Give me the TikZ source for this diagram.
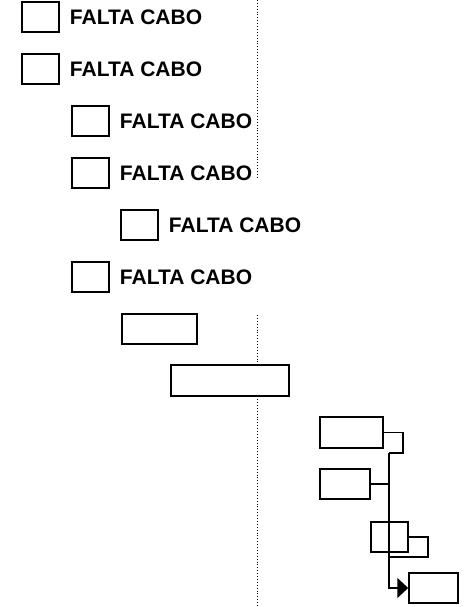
\documentclass[tikz,border=0pt]{standalone}
\usepackage{fontspec}
\setmainfont{Liberation Sans}
\usetikzlibrary{positioning, arrows.meta}
\tikzstyle{taskbox} = [rectangle, draw=black, line width=1.5pt, fill=white, inner sep=0pt, minimum height=30pt]
\tikzstyle{tasktext} = [inner sep=0pt, font=\fontsize{21}{25}\selectfont\bfseries]
\tikzstyle{link} = [line width=1.6pt]
\tikzstyle{arrow} = [line width=1.6pt, -{Triangle[length=11pt,width=20pt]}]
\tikzstyle{guide} = [dotted, line width=0.9pt]

\begin{document}
\begin{tikzpicture}[x=1pt, y=-1pt]
    \useasboundingbox (0,0) rectangle (463,607);

    % date line
    \draw [guide] (257,0) -- (257,178);
    \draw [guide] (257,315) -- (257,607);

    % flagged tasks
    \node (b1) [taskbox, minimum width=37pt] at (40.5,17) {};
    \node (b2) [taskbox, minimum width=37pt] at (40.5,69) {};
    \node (b3) [taskbox, minimum width=37pt] at (90.5,121) {};
    \node (b4) [taskbox, minimum width=37pt] at (90.5,173) {};
    \node (b5) [taskbox, minimum width=37pt] at (139.5,225) {};
    \node (b6) [taskbox, minimum width=37pt] at (90.5,277) {};

    \node (t1) [tasktext, right=10pt of b1] {FALTA CABO};
    \node (t2) [tasktext, right=10pt of b2] {FALTA CABO};
    \node (t3) [tasktext, right=10pt of b3] {FALTA CABO};
    \node (t4) [tasktext, right=10pt of b4] {FALTA CABO};
    \node (t5) [tasktext, right=10pt of b5] {FALTA CABO};
    \node (t6) [tasktext, right=10pt of b6] {FALTA CABO};

    % bars
    \node (b7) [taskbox, minimum width=75pt] at (159.5,329) {};
    \node (b8) [taskbox, minimum width=118pt, minimum height=31pt] at (230,380.5) {};
    \node (b9) [taskbox, minimum width=63pt, minimum height=31pt] at (351.5,432.5) {};
    \node (b10) [taskbox, minimum width=50pt] at (345,484) {};
    \node (b11) [taskbox, minimum width=37pt] at (389.5,537) {};
    \node (b12) [taskbox, minimum width=49pt] at (433.5,588) {};

    \coordinate (j1) at (389,453);
    \coordinate (j3) at (389,557);

    \draw [link] (b9.east) -- ++(19,0) |- (j1);
    \draw [link] (b10.east) -- (b10.east -| j1);
    \draw [link] (b11.east) -- ++(19,0) |- (j3);
    \draw [arrow] (j1) |- (b12.west);

\end{tikzpicture}
\end{document}
